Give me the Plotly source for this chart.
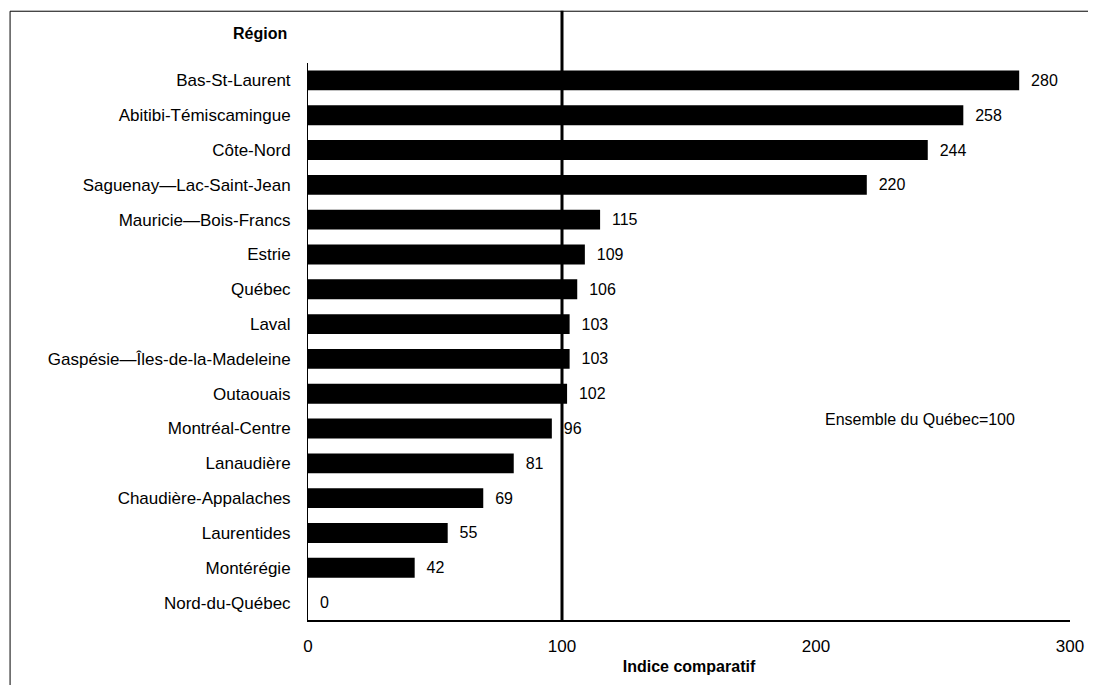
import plotly.graph_objects as go

regions = ["Bas-St-Laurent", "Abitibi-Témiscamingue", "Côte-Nord", "Saguenay—Lac-Saint-Jean",
           "Mauricie—Bois-Francs", "Estrie", "Québec", "Laval", "Gaspésie—Îles-de-la-Madeleine",
           "Outaouais", "Montréal-Centre", "Lanaudière", "Chaudière-Appalaches", "Laurentides",
           "Montérégie", "Nord-du-Québec"]
values = [280, 258, 244, 220, 115, 109, 106, 103, 103, 102, 96, 81, 69, 55, 42, 0]
x_ticks = [0, 100, 200, 300]

# page body has an 8px margin: reference pixel coords are offset by OFF
OFF = 8
W, H = 1096 - OFF, 685 - OFF
ml, mr, mt, mb = 308 - OFF, 22, 62.5 - OFF, 685 - 622
pw, ph = W - ml - mr, H - mt - mb

def px_x(p):
    return (p - OFF - ml) / pw

def px_y(p):
    return (H - mb - (p - OFF)) / ph

FAM = "Liberation Sans, Arial, sans-serif"
font = dict(family=FAM, size=16, color="black")
yfont = dict(family=FAM, size=17, color="black")
bfont = dict(family=FAM, size=16, color="black", weight="bold")

fig = go.Figure(go.Bar(
    x=values, y=regions, orientation="h",
    marker=dict(color="black", line=dict(width=0)),
    width=0.57,
    text=["\u00a0\u00a0" + str(v) for v in values], textposition="outside",
    textfont=font, cliponaxis=False,
))

fig.update_layout(
    width=W, height=H,
    margin=dict(l=ml, r=mr, t=mt, b=mb),
    plot_bgcolor="white", paper_bgcolor="white",
    font=font, showlegend=False,
    xaxis=dict(range=[0, 300], tickvals=x_ticks, showgrid=False, zeroline=False,
               showline=True, linecolor="black", linewidth=1.5, ticks="",
               tickfont=yfont, ticklabelstandoff=10,
               title=dict(text="Indice comparatif", font=bfont, standoff=6)),
    yaxis=dict(categoryorder="array", categoryarray=regions[::-1], autorange=False,
               range=[-0.5, 15.5], showgrid=False, zeroline=False,
               showline=True, linecolor="black", linewidth=1, ticks="",
               ticklabelstandoff=13, tickfont=yfont),
    shapes=[
        dict(type="line", xref="x", yref="paper", x0=100, x1=100,
             y0=0, y1=px_y(10), line=dict(color="black", width=3)),
        dict(type="line", xref="paper", yref="paper", x0=px_x(8.5), x1=px_x(1100),
             y0=px_y(10.5), y1=px_y(10.5), line=dict(color="black", width=1)),
        dict(type="line", xref="paper", yref="paper", x0=px_x(8.5), x1=px_x(8.5),
             y0=px_y(10.5), y1=px_y(690), line=dict(color="black", width=1)),
    ],
    annotations=[
        dict(text="Région", xref="paper", yref="paper", x=px_x(260), y=px_y(33),
             showarrow=False, font=bfont, xanchor="center", yanchor="middle"),
        dict(text="Ensemble du Québec=100", xref="paper", yref="paper", x=px_x(923), y=px_y(421),
             showarrow=False, font=font, xanchor="center", yanchor="middle"),
    ],
)

fig.write_html("out.html")
